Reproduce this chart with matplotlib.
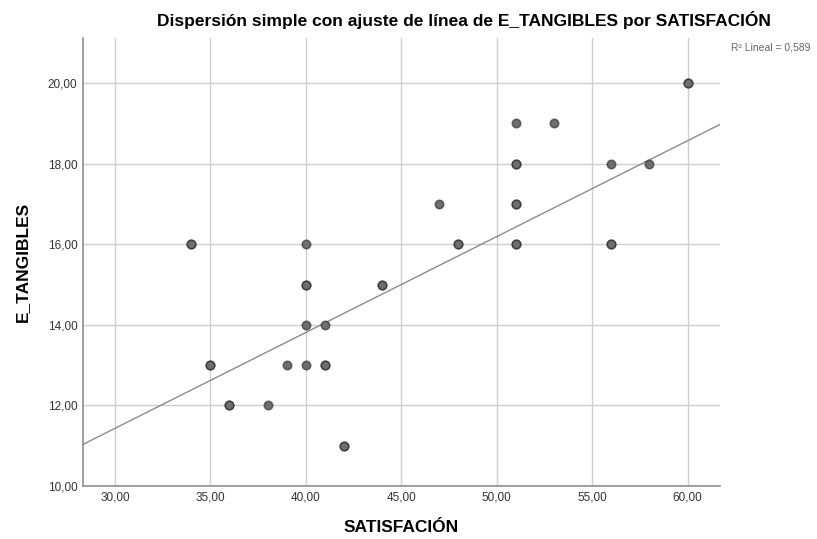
import matplotlib.pyplot as plt
import numpy as np

plt.rcParams['font.family'] = ['Liberation Sans', 'DejaVu Sans']

# SATISFACCION vs E_TANGIBLES cases (repeated pairs listed once per overlap)
satisfacion = [34, 34, 35, 35, 36, 36, 38, 39, 40, 40, 40, 40, 40, 41, 41, 41,
               42, 42, 44, 44, 47, 48, 48, 51, 51, 51, 51, 51, 51, 51, 53, 56,
               56, 56, 58, 60, 60]
e_tangibles = [16, 16, 13, 13, 12, 12, 12, 13, 16, 15, 15, 14, 13, 14, 13, 13,
               11, 11, 15, 15, 17, 16, 16, 19, 18, 18, 17, 17, 16, 16, 19, 18,
               16, 16, 18, 20, 20]

# fitted line
fit_intercept = 4.29
fit_slope = 0.238
r2_text = 'R² Lineal = 0,589'

xticks = [30, 35, 40, 45, 50, 55, 60]
yticks = [10, 12, 14, 16, 18, 20]

fig = plt.figure(figsize=(8.17, 5.39), dpi=100)
ax = fig.add_axes([83 / 817, 1 - 486 / 539, (720 - 83) / 817, (486 - 38) / 539])

xlim = (28.33, 61.7)
ylim = (10, 21.12)
ax.set_xlim(*xlim)
ax.set_ylim(*ylim)

ax.set_xticks(xticks)
ax.set_yticks(yticks)
ax.set_xticklabels([('%.2f' % v).replace('.', ',') for v in xticks])
ax.set_yticklabels([('%.2f' % v).replace('.', ',') for v in yticks])
ax.tick_params(length=0, labelsize=8.5, labelcolor='#333333', pad=4)

ax.grid(True, color='#cfcfcf', linewidth=1.0)
ax.set_axisbelow(True)
for side in ['top', 'right']:
    ax.spines[side].set_visible(False)
for side in ['left', 'bottom']:
    ax.spines[side].set_color('#8f8f8f')
    ax.spines[side].set_linewidth(1.2)

xs = np.array(xlim)
ax.plot(xs, fit_intercept + fit_slope * xs, color='#8c8c8c', linewidth=1.0,
        zorder=2)

ax.scatter(satisfacion, e_tangibles, s=38, facecolor='#6e6e6e',
           edgecolor=(0.1, 0.1, 0.1, 0.55), linewidth=1.1, zorder=3)

ax.set_xlabel('SATISFACIÓN', fontsize=12.5, fontweight='bold', labelpad=12)
ax.set_ylabel('E_TANGIBLES', fontsize=12.5, fontweight='bold', labelpad=13)

fig.text(464 / 817, 1 - 20 / 539,
         'Dispersión simple con ajuste de línea de E_TANGIBLES por SATISFACIÓN',
         ha='center', va='center', fontsize=12.5, fontweight='bold')
fig.text(771 / 817, 1 - 48 / 539, r2_text, ha='center', va='center',
         fontsize=7.5, color='#666666')

fig.savefig('out.png', dpi=100)
